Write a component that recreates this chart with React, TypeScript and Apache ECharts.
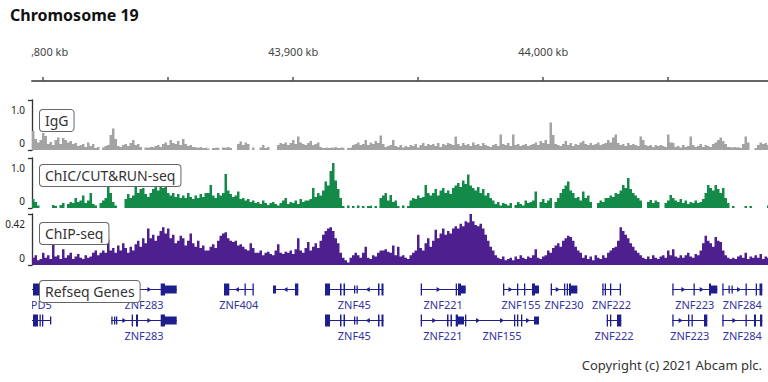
import React, { useEffect, useRef } from "react";
import * as echarts from "echarts";

// ---- data ----
const VIEW_START = 43795.5; // kb
const VIEW_END = 44089.9; // kb
const BIN_START = 43795.5; // first 1 kb bin
const RULER_TICKS = [43800, 43850, 43900, 43950, 44000, 44050];
const RULER_LABELS = [43800, 43900, 44000];

const trackNames = ["IgG", "ChIC/CUT&RUN-seq", "ChIP-seq"];
const trackMax = [1.0, 1.0, 0.42];
const trackMaxLabels = ["1.0", "1.0", "0.42"];

const igg = [
  0.38,0.22,0.15,0.2,0.34,0.28,0.12,0.16,0.1,0.2,
  0.25,0.12,0.24,0.2,0.15,0.18,0.12,0.14,0.08,0.1,
  0.12,0.06,0.15,0.08,0.12,0.04,0.06,0,0.05,0.08,
  0.1,0.3,0.43,0.22,0.08,0.06,0.1,0.12,0.08,0.14,
  0.2,0.1,0.12,0.06,0,0.05,0.04,0.06,0.05,0.08,
  0.1,0.06,0.12,0.15,0.1,0.2,0.14,0.12,0.18,0.1,
  0.22,0.12,0.08,0.1,0.06,0.05,0.04,0.06,0.04,0.05,
  0.03,0,0.04,0.05,0.04,0,0.05,0.04,0.06,0.04,
  0,0,0.12,0.17,0.1,0.15,0.12,0,0.05,0,
  0,0.05,0.1,0.04,0.06,0,0,0,0.1,0.14,
  0.12,0.15,0.1,0.14,0.2,0.12,0.27,0.15,0.12,0.1,
  0.14,0.18,0.1,0.12,0.15,0.06,0.04,0.05,0.04,0.05,
  0.04,0.06,0.04,0.05,0.04,0,0.04,0.05,0.1,0.12,
  0.15,0.1,0.12,0.2,0.1,0.15,0.12,0.18,0.14,0.29,
  0.12,0.06,0.08,0.1,0.2,0.08,0.06,0.1,0.05,0.08,
  0.06,0.1,0.08,0.12,0.05,0.1,0.14,0.08,0.12,0.1,
  0.12,0.08,0.14,0.06,0.12,0.1,0.14,0.12,0.1,0.27,
  0.12,0.08,0.14,0.1,0.12,0.08,0.15,0.1,0.12,0.08,
  0.14,0.1,0.08,0.06,0.1,0.12,0.08,0.31,0.12,0.1,
  0.14,0.08,0.31,0.1,0.12,0.08,0.1,0.12,0.08,0.1,
  0.12,0.15,0.1,0.18,0.14,0.2,0.12,0.55,0.3,0.12,
  0.1,0.08,0.12,0.18,0.1,0.14,0.08,0.12,0.1,0.15,
  0.18,0.12,0.1,0.14,0.1,0.12,0.15,0.1,0.12,0.14,
  0.2,0.15,0.25,0.31,0.14,0.1,0.12,0.08,0.14,0.1,
  0.12,0.1,0.08,0.27,0.2,0.1,0.08,0.1,0.06,0.1,
  0.08,0.1,0.08,0.06,0.31,0.15,0.14,0.06,0.08,0.05,
  0.1,0.06,0.08,0.27,0.1,0.06,0.08,0.12,0.06,0.1,
  0.08,0.06,0.12,0.15,0.2,0.25,0.18,0.12,0.06,0.05,
  0.06,0.05,0.06,0.04,0.12,0.27,0.15,0,0,0.04,
  0.1,0.15,0.12,0.14,0.1,
];

const chic = [
  0.18,0.12,0.05,0,0,0,0,0,0.06,0.04,
  0,0.06,0.1,0,0.08,0.12,0.1,0.2,0.12,0.15,
  0.25,0.1,0.15,0.3,0.08,0.05,0,0.1,0.15,0.2,
  0.42,0.3,0.12,0.05,0,0,0,0.18,0.28,0.2,
  0.25,0.43,0.3,0.38,0.4,0.28,0.22,0.3,0.38,0.42,
  0.35,0.5,0.4,0.42,0.3,0.25,0.3,0.22,0.28,0.2,
  0.25,0.2,0.3,0.22,0.18,0.25,0.2,0.28,0.22,0.3,
  0.3,0.46,0.25,0.2,0.3,0.25,0.3,0.68,0.35,0.28,
  0.22,0.25,0.33,0.18,0.2,0.15,0.18,0.12,0.15,0.1,
  0.12,0.08,0.15,0.1,0.06,0.1,0.12,0.08,0.05,0.1,
  0.15,0.2,0.08,0.12,0.1,0.15,0.08,0.18,0.12,0.15,
  0.15,0.18,0.4,0.22,0.3,0.25,0.35,0.53,0.45,0.74,
  0.9,0.55,0.38,0.2,0.04,0,0.05,0,0.04,0,
  0.05,0,0.04,0,0.04,0.05,0,0.04,0,0.2,
  0.25,0.3,0.15,0.26,0.12,0.15,0.04,0,0.05,0,
  0.04,0.15,0.2,0.18,0.25,0.2,0.22,0.46,0.3,0.25,
  0.3,0.38,0.25,0.35,0.4,0.3,0.35,0.28,0.4,0.45,
  0.5,0.42,0.55,0.48,0.67,0.45,0.4,0.35,0.42,0.3,
  0.38,0.25,0.3,0.2,0.15,0.08,0.12,0.05,0.1,0.08,
  0.05,0.1,0,0.06,0.12,0.08,0.05,0.15,0.1,0.12,
  0.15,0.33,0,0.12,0.18,0.1,0.15,0.2,0,0.12,
  0.2,0.3,0.38,0.45,0.53,0.35,0.3,0.2,0.22,0.15,
  0.33,0.2,0.25,0.12,0,0,0.1,0.15,0.12,0.2,
  0.2,0.25,0.22,0.3,0.28,0.35,0.46,0.4,0.6,0.38,
  0.3,0.25,0.2,0.15,0,0,0.12,0.16,0.1,0.15,
  0.12,0,0,0.1,0.15,0.26,0.2,0.15,0.12,0.18,
  0.1,0.15,0.08,0.12,0.1,0.15,0.1,0.12,0.18,0.3,
  0.46,0.4,0.35,0.46,0.38,0.3,0.4,0.2,0.1,0,
  0.04,0,0,0,0,0.04,0,0.04,0,0,
  0,0,0,0,0.05,
];

const chip = [
  0.06,0.08,0.04,0.05,0.1,0.06,0.08,0.05,0.165,0.07,
  0.08,0.05,0.13,0.06,0.08,0.1,0.05,0.07,0.09,0.06,
  0.05,0.08,0.06,0.07,0.1,0.12,0.08,0.1,0.12,0.1,
  0.21,0.12,0.14,0.1,0.16,0.12,0.18,0.14,0.1,0.15,
  0.12,0.17,0.2,0.15,0.22,0.18,0.3,0.22,0.25,0.2,
  0.24,0.28,0.31,0.26,0.3,0.22,0.25,0.18,0.2,0.24,
  0.22,0.16,0.2,0.26,0.18,0.15,0.2,0.14,0.16,0.12,
  0.12,0.15,0.17,0.14,0.2,0.24,0.26,0.27,0.22,0.2,
  0.19,0.2,0.16,0.17,0.15,0.13,0.12,0.18,0.14,0.1,
  0.1,0.12,0.08,0.1,0.11,0.09,0.08,0.12,0.17,0.1,
  0.09,0.11,0.1,0.12,0.09,0.13,0.22,0.12,0.1,0.14,
  0.19,0.12,0.15,0.18,0.14,0.2,0.25,0.28,0.3,0.31,
  0.28,0.22,0.18,0.1,0.06,0.04,0.02,0.06,0.08,0.1,
  0.08,0.06,0.1,0.15,0.06,0.05,0.08,0.07,0.1,0.12,
  0.12,0.13,0.11,0.1,0.16,0.08,0.15,0.07,0.08,0.06,
  0.05,0.08,0.1,0.12,0.25,0.14,0.12,0.18,0.22,0.15,
  0.2,0.29,0.22,0.26,0.3,0.25,0.28,0.26,0.3,0.32,
  0.3,0.34,0.32,0.36,0.35,0.42,0.36,0.33,0.32,0.34,
  0.3,0.25,0.2,0.15,0.12,0.08,0.06,0.05,0.07,0.04,
  0.05,0.06,0.04,0.07,0.05,0.08,0.06,0.05,0.07,0.06,
  0.08,0.13,0.06,0.05,0.07,0.08,0.12,0.1,0.14,0.16,
  0.18,0.15,0.2,0.22,0.24,0.23,0.2,0.15,0.12,0.1,
  0.06,0.08,0.05,0.07,0.04,0.08,0.06,0.05,0.08,0.06,
  0.1,0.12,0.14,0.15,0.2,0.31,0.28,0.25,0.22,0.18,
  0.15,0.12,0.1,0.08,0.06,0.05,0.07,0.05,0.08,0.06,
  0.05,0.07,0.08,0.06,0.12,0.08,0.13,0.07,0.06,0.08,
  0.06,0.08,0.1,0.07,0.06,0.09,0.08,0.12,0.18,0.24,
  0.2,0.18,0.15,0.23,0.2,0.19,0.12,0.08,0.06,0.05,
  0.06,0.05,0.07,0.08,0.06,0.1,0.05,0.07,0.06,0.08,
  0.06,0.09,0.05,0.07,0.06,
];

type Exon = [number, number, string];
type Transcript = [string, number, string, number, number, Exon[]];
// name, row, strand, start kb, end kb, exons [start, end, "t" tall | "m" medium]
const transcripts: Transcript[] = [
  ["LYPD5", 0, "-", 43789.9, 43803.9, [[43789.9,43790.7,"t"],[43795.9,43798.3,"t"],[43800.3,43801.1,"t"],[43803.1,43803.9,"t"]]],
  ["LYPD5", 1, "-", 43774.7, 43803.1, [[43774.7,43776.7,"t"],[43795.9,43797.9,"t"],[43798.5,43798.9,"t"],[43799.5,43799.9,"t"],[43802.7,43803.1,"m"]]],
  ["ZNF283", 0, "+", 43827.22, 43853.38, [[43827.22,43827.9,"t"],[43835.38,43835.9,"t"],[43837.1,43837.9,"t"],[43846.98,43848.7,"t"],[43848.7,43853.38,"m"]]],
  ["ZNF283", 1, "+", 43827.22, 43853.38, [[43827.22,43827.7,"m"],[43828.3,43828.7,"m"],[43829.1,43829.5,"m"],[43835.38,43835.9,"t"],[43837.1,43837.9,"t"],[43846.98,43848.7,"t"],[43848.7,43853.38,"m"]]],
  ["ZNF404", 0, "-", 43872.3, 43884.1, [[43872.3,43874.42,"t"],[43880.5,43880.9,"t"],[43883.7,43884.1,"t"]]],
  ["", 0, "-", 43891.9, 43902.02, [[43891.9,43893.1,"m"],[43900.7,43902.02,"t"]]],
  ["ZNF45", 0, "-", 43912.7, 43936.1, [[43912.7,43914.7,"t"],[43918.7,43919.3,"t"],[43920.1,43920.7,"t"],[43924.3,43924.7,"m"],[43925.3,43925.7,"m"],[43933.9,43934.5,"t"],[43935.3,43936.1,"t"]]],
  ["ZNF45", 1, "-", 43912.7, 43936.1, [[43912.7,43914.7,"t"],[43918.7,43919.3,"t"],[43920.1,43920.7,"t"],[43924.3,43924.7,"m"],[43925.3,43925.7,"m"],[43933.9,43934.5,"t"],[43935.3,43936.1,"t"]]],
  ["ZNF221", 0, "+", 43950.98, 43968.98, [[43950.98,43951.3,"t"],[43964.98,43965.38,"t"],[43965.9,43967.1,"t"],[43967.1,43968.98,"m"]]],
  ["ZNF221", 1, "+", 43950.98, 43968.7, [[43950.98,43951.3,"t"],[43961.5,43962.1,"t"],[43962.9,43963.5,"t"],[43964.98,43965.9,"t"],[43965.9,43968.3,"m"]]],
  ["ZNF155", 0, "+", 43983.9, 43998.3, [[43983.9,43984.3,"t"],[43989.5,43989.9,"t"],[43992.3,43992.7,"t"],[43995.5,43996.7,"t"],[43996.7,43998.3,"m"]]],
  ["ZNF155", 1, "+", 43968.7, 43998.3, [[43968.7,43969.1,"t"],[43988.3,43988.7,"t"],[43989.5,43989.9,"t"],[43991.1,43991.5,"t"],[43996.3,43998.3,"m"]]],
  ["ZNF230", 0, "+", 44002.98, 44013.62, [[44002.98,44003.3,"t"],[44008.3,44008.7,"t"],[44009.38,44009.78,"t"],[44010.3,44011.1,"t"],[44011.1,44013.62,"m"]]],
  ["ZNF222", 0, "+", 44023.62, 44030.98, [[44023.62,44024.02,"t"],[44024.58,44024.98,"t"],[44026.7,44027.1,"t"],[44030.58,44030.98,"t"]]],
  ["ZNF222", 1, "+", 44025.38, 44031.22, [[44025.38,44025.78,"t"],[44026.7,44027.1,"t"],[44029.5,44031.22,"t"]]],
  ["ZNF223", 0, "+", 44051.62, 44069.62, [[44051.62,44052.02,"t"],[44060.1,44060.5,"t"],[44066.3,44067.1,"t"],[44067.1,44069.62,"m"]]],
  ["ZNF223", 1, "+", 44051.62, 44065.62, [[44051.62,44052.02,"t"],[44057.9,44058.3,"t"],[44059.3,44059.7,"t"],[44064.3,44065.62,"t"]]],
  ["ZNF284", 0, "+", 44071.62, 44087.62, [[44071.62,44072.02,"t"],[44074.1,44074.5,"m"],[44075.3,44075.7,"m"],[44080.9,44081.3,"t"],[44084.98,44085.5,"t"],[44086.5,44087.62,"t"]]],
  ["ZNF284", 1, "+", 44071.62, 44087.62, [[44071.62,44072.02,"t"],[44080.9,44081.3,"t"],[44084.3,44085.1,"t"],[44086.7,44087.62,"t"]]],
];
const geneRows = ["0", "1", "2"];

// ---- styles / layout ----
const FONT = '"Noto Sans", "Open Sans", sans-serif';
const TRACK_COLORS = ["#a3a3a3", "#138a48", "#4e1f8e"];
const GENE_COLOR = "#1e1e8e";
const GENE_LABEL_COLOR = "#3434a2";
const TRACK_TOP = [100, 158, 214];
const TRACK_H = [50, 50, 51];

const toSteps = (vals: number[]) => {
  const pts: number[][] = vals.map((v, i) => [BIN_START + i, v]);
  pts.push([BIN_START + vals.length, vals[vals.length - 1]]);
  return pts;
};

export default function App() {
  const ref = useRef<HTMLDivElement>(null);
  useEffect(() => {
    if (!ref.current) return;
    const chart = echarts.init(ref.current, null, { renderer: "svg" });
    const tracks = [igg, chic, chip];

    const grids: any[] = [
      { left: 32, right: 0, top: 61, height: 20, outerBoundsMode: "none" },
      ...TRACK_TOP.map((t, i) => ({ left: 32, right: 0, top: t, height: TRACK_H[i], outerBoundsMode: "none" })),
      { left: 32, right: 0, top: 274, height: 93, outerBoundsMode: "none" },
    ];

    const xAxes: any[] = [
      {
        gridIndex: 0,
        type: "value",
        position: "top",
        min: VIEW_START,
        max: VIEW_END,
        axisLine: { show: true, lineStyle: { color: "#666", width: 2 } },
        axisTick: { show: true, customValues: RULER_TICKS, length: 4, lineStyle: { color: "#555", width: 1.5 } },
        axisLabel: {
          show: true,
          customValues: RULER_LABELS,
          margin: 4,
          fontSize: 11,
          color: "#444",
          fontFamily: FONT,
          formatter: (v: number) => v.toLocaleString("en-US") + " kb",
        },
        splitLine: { show: false },
      },
      ...[1, 2, 3, 4].map((g) => ({ gridIndex: g, type: "value", min: VIEW_START, max: VIEW_END, show: false })),
    ];

    const yAxes: any[] = [
      { gridIndex: 0, type: "value", show: false },
      ...trackMax.map((m, i) => ({
        gridIndex: i + 1,
        type: "value",
        min: 0,
        max: m,
        interval: m,
        axisLine: { show: true, lineStyle: { color: "#333", width: 1.3 } },
        axisTick: { show: true, length: 4, lineStyle: { color: "#333", width: 1.3 } },
        axisLabel: { show: false },
        splitLine: { show: false },
      })),
      { gridIndex: 4, type: "category", data: geneRows, inverse: true, show: false },
    ];

    const series: any[] = tracks.map((vals, i) => ({
      type: "line",
      xAxisIndex: i + 1,
      yAxisIndex: i + 1,
      step: "end",
      symbol: "none",
      data: toSteps(vals),
      lineStyle: { width: 0 },
      areaStyle: { color: TRACK_COLORS[i], opacity: 1 },
      itemStyle: { color: TRACK_COLORS[i] },
      silent: true,
    }));

    series.push({
      type: "custom",
      xAxisIndex: 4,
      yAxisIndex: 4,
      clip: true,
      silent: true,
      data: transcripts.map((t) => [t[3], t[4], t[1]]),
      encode: { x: [0, 1], y: 2 },
      renderItem: (params: any, api: any) => {
        const [name, row, strand, start, end, exons] = transcripts[params.dataIndex];
        const p0 = api.coord([start, row]);
        const p1 = api.coord([end, row]);
        const y = p0[1];
        const children: any[] = [];
        children.push({
          type: "line",
          shape: { x1: p0[0], y1: y, x2: p1[0], y2: y },
          style: { stroke: GENE_COLOR, lineWidth: 1 },
        });
        for (let k = 0; k < exons.length - 1; k++) {
          const a = api.coord([exons[k][1], row])[0];
          const b = api.coord([exons[k + 1][0], row])[0];
          const w = b - a;
          if (w > 12) {
            const n = Math.max(1, Math.round(w / 32));
            const d = strand === "+" ? 1 : -1;
            for (let j = 0; j < n; j++) {
              const mx = a + (w * (j + 0.5)) / n;
              children.push({
                type: "polygon",
                shape: { points: [[mx - 2 * d, y - 2.5], [mx + 2 * d, y], [mx - 2 * d, y + 2.5]] },
                style: { fill: GENE_COLOR },
              });
            }
          }
        }
        exons.forEach(([s, e, kind]) => {
          const xs = api.coord([s, row])[0];
          const xe = api.coord([e, row])[0];
          const h = kind === "t" ? 12 : 8;
          children.push({
            type: "rect",
            shape: { x: xs, y: y - h / 2, width: Math.max(xe - xs, 1.3), height: h },
            style: { fill: GENE_COLOR },
          });
        });
        if (name) {
          children.push({
            type: "text",
            x: (p0[0] + p1[0]) / 2,
            y: y + 15,
            style: {
              text: name,
              fill: GENE_LABEL_COLOR,
              font: `11px ${FONT}`,
              textAlign: "center",
              textVerticalAlign: "middle",
              align: "center",
              verticalAlign: "middle",
            },
          });
        }
        return { type: "group", children };
      },
    });

    const boxStyle = (text: string) => ({
      text,
      font: `14px ${FONT}`,
      fill: "#333",
      backgroundColor: "#fff",
      borderColor: "#666",
      borderWidth: 1,
      borderRadius: 3,
      padding: [2, 5, 2, 5],
      lineHeight: 17,
    });

    const graphics: any[] = [
      // mask clipping the ruler's first label at the panel edge
      { type: "rect", left: 0, top: 38, shape: { width: 31.5, height: 20 }, style: { fill: "#fff" }, z: 100 },
      {
        type: "text",
        x: 762,
        y: 365,
        z: 100,
        style: {
          text: "Copyright (c) 2021 Abcam plc.",
          font: `13px ${FONT}`,
          fill: "#333",
          textAlign: "right",
          textVerticalAlign: "middle",
          align: "right",
          verticalAlign: "middle",
        },
      },
    ];
    const labelBoxTops = [110, 165, 223];
    trackNames.forEach((n, i) => {
      graphics.push({ type: "text", x: 40, y: labelBoxTops[i], z: 100, style: boxStyle(n) });
      graphics.push({
        type: "text",
        x: 25,
        y: TRACK_TOP[i] + 10,
        z: 100,
        style: { text: trackMaxLabels[i], font: `10px ${FONT}`, fill: "#222", textAlign: "right", textVerticalAlign: "middle", align: "right", verticalAlign: "middle" },
      });
      graphics.push({
        type: "text",
        x: 25,
        y: TRACK_TOP[i] + TRACK_H[i] - 7,
        z: 100,
        style: { text: "0", font: `10px ${FONT}`, fill: "#222", textAlign: "right", textVerticalAlign: "middle", align: "right", verticalAlign: "middle" },
      });
    });
    graphics.push({ type: "text", x: 40, y: 281, z: 100, style: boxStyle("Refseq Genes") });

    chart.setOption({
      animation: false,
      backgroundColor: "#fff",
      title: {
        text: "Chromosome 19",
        left: 10,
        top: 7,
        padding: 0,
        textStyle: { fontSize: 16, fontWeight: "bold", color: "#111", fontFamily: FONT },
      },
      grid: grids,
      xAxis: xAxes,
      yAxis: yAxes,
      series,
      graphic: { elements: graphics },
    });
    return () => chart.dispose();
  }, []);
  return <div ref={ref} style={{ position: "fixed", left: 0, top: 0, width: 768, height: 382 }} />;
}
